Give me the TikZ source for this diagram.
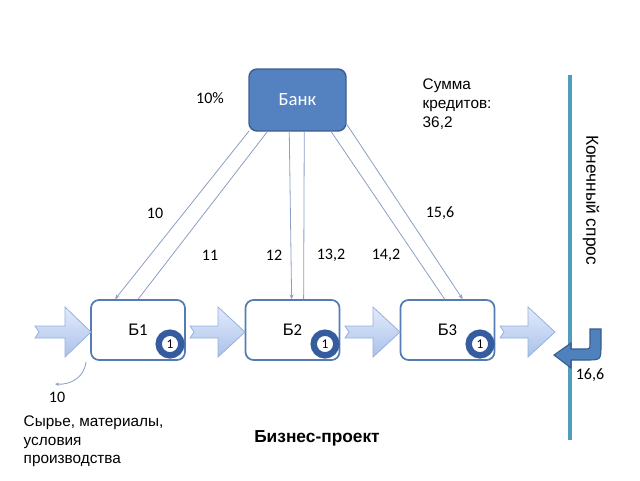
\documentclass[tikz,border=0pt]{standalone}
\usepackage{fontspec}
\setmainfont{Carlito}
\newfontfamily\arialf{Liberation Sans}
\usetikzlibrary{arrows.meta,calc}
\definecolor{bankfill}{RGB}{84,130,192}
\definecolor{bankdraw}{RGB}{60,96,145}
\definecolor{boxdraw}{RGB}{84,124,178}
\definecolor{linkcol}{RGB}{140,158,196}
\definecolor{arrtop}{RGB}{226,235,251}
\definecolor{arrbot}{RGB}{170,193,234}
\definecolor{arrdraw}{RGB}{150,176,222}
\definecolor{tealcol}{RGB}{78,158,188}
\definecolor{badgecol}{RGB}{52,92,158}
\definecolor{uturnfill}{RGB}{79,129,189}
\definecolor{uturndraw}{RGB}{56,93,138}
\begin{document}
\begin{tikzpicture}[x=0.75pt,y=-0.75pt,
  bankbox/.style={draw=bankdraw,fill=bankfill,line width=1.1pt,rounded corners=6pt,
    minimum width=72.75pt,minimum height=46.5pt,text=white,font=\fontsize{14}{16}\selectfont},
  bbox/.style={draw=boxdraw,fill=white,line width=1.3pt,rounded corners=6pt,
    minimum width=70.5pt,minimum height=45pt,font=\fontsize{12.5}{14}\selectfont},
  badge/.style={circle,draw=badgecol,line width=4.8pt,fill=white,minimum size=17pt,inner sep=0pt,
    font=\fontsize{10}{10}\selectfont},
  link/.style={draw=linkcol,line width=0.6pt},
  linkarr/.style={link,-{Stealth[length=3.5pt,width=3pt]}},
  blockarr/.style={draw=arrdraw,line width=0.6pt,top color=arrtop,bottom color=arrbot},
  num/.style={font=\fontsize{12}{14}\selectfont},
  atext/.style={font=\arialf\fontsize{11}{14}\selectfont}
]
\useasboundingbox (0,0) rectangle (640,480);

% nodes
\node[bankbox] (bank) at (297.5,100) {Банк};
\node[bbox] (b1) at (138,330) {{\arialf Б}1};
\node[bbox] (b2) at (292.5,330) {{\arialf Б}2};
\node[bbox] (b3) at (447.5,330) {{\arialf Б}3};
\node[badge] (c1) at (170,344) {1};
\node[badge] (c2) at (325,344) {1};
\node[badge] (c3) at (480,344) {1};

% bank links
\draw[linkarr] ($(bank.south west)+(1,-1)$) -- ($(b1.north west)+(25,0)$);
\draw[link] ($(bank.south west)+(19,0)$) -- ($(b1.north west)+(48,0)$);
\draw[linkarr] ($(bank.south west)+(41,0)$) -- ($(b2.north west)+(47,0)$);
\draw[link] ($(bank.south west)+(56,0)$) -- ($(b2.north west)+(59,0)$);
\draw[link] ($(bank.south west)+(83,0)$) -- ($(b3.north west)+(45,0)$);
\draw[linkarr] ($(bank.south east)+(-1,-9)$) -- ($(b3.north west)+(63,0)$);

% block arrows
\foreach \xa/\xh/\xb in {35/65/91, 190/218/245, 345/373/400, 500/528/555}{
  \draw[blockarr] (\xa,326) -- (\xh,326) -- (\xh,307) -- (\xb,332) -- (\xh,357)
     -- (\xh,338) -- (\xa,338) -- (\xa+4,332) -- cycle;
}

% final demand line
\coordinate (vt) at (570,75);
\coordinate (vb) at (570,440);
\draw[tealcol,line width=2.3pt] (vt) -- (vb);
\node[font=\arialf\fontsize{13}{15}\selectfont,rotate=-90] (fd) at (591,200) {Конечный спрос};

% u-turn arrow
\draw[fill=uturnfill,draw=uturndraw,line width=0.8pt]
  (590,329) -- (601,329) -- (601,345) .. controls (601,360) .. (586,360)
  -- (571,360) -- (571,368) -- (554,355) -- (571,343) -- (571,349)
  -- (584,349) .. controls (590,349) .. (590,343) -- cycle;

% raw material arrow
\coordinate (rs) at (86,362);
\coordinate (re) at (55,384);
\draw[link,-{Stealth[length=3pt,width=2.5pt]}] (rs) .. controls (84,378) and (70,385) .. (re);

% labels
\node[num] (p10) at (210,98) {10\%};
\node[atext,align=left,anchor=north west,font=\arialf\fontsize{11.5}{14.2}\selectfont] (sum) at (418,74) {Сумма\\кредитов:\\36,2};
\node[num] (l10) at (155,213) {10};
\node[num] (l11) at (210,255) {11};
\node[num] (l12) at (274,255) {12};
\node[num] (l132) at (331,255) {13,2};
\node[num] (l142) at (386,255) {14,2};
\node[num] (l156) at (440,213) {15,6};
\node[num] (l166) at (590,375) {16,6};
\node[num] (r10) at (57,397) {10};
\node[atext,align=left,anchor=north west,font=\arialf\fontsize{11.5}{14}\selectfont] (raw) at (19,411)
  {Сырье, материалы,\\условия\\производства};
\node[font=\arialf\bfseries\fontsize{13}{15}\selectfont] (bp) at (317,438) {Бизнес-проект};
\end{tikzpicture}
\end{document}
